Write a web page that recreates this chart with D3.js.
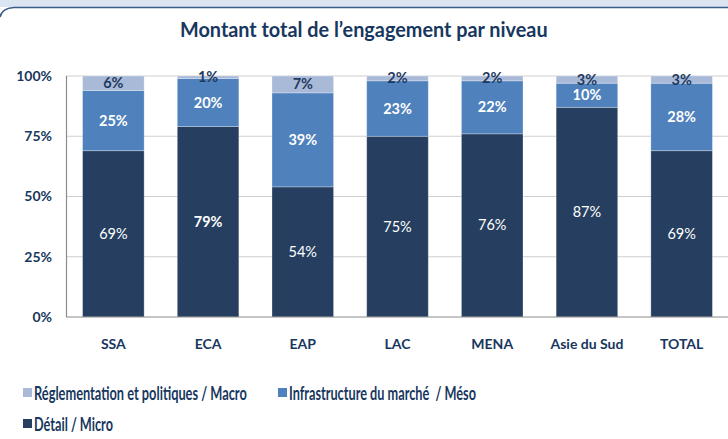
<!DOCTYPE html>
<html><head><meta charset="utf-8">
<script src="https://cdn.jsdelivr.net/npm/d3@7"></script>
<style>body{margin:0;background:#fff}svg{display:block}text{font-family:Lato,"Open Sans",sans-serif}</style>
</head><body><svg id="c" width="728" height="439"></svg>
<script>
const categories = ["SSA","ECA","EAP","LAC","MENA","Asie du Sud","TOTAL"];
const micro = [69,79,54,75,76,87,69];
const meso  = [25,20,39,23,22,10,28];
const macro = [6,1,7,2,2,3,3];
const yTicks = [0,25,50,75,100];
const seriesNames = ["Détail / Micro","Infrastructure du marché  / Méso","Réglementation et politiques / Macro"];
const colors = ["#263f60","#4f81bd","#a9b9d8"];
const labelColors = ["#ffffff","#ffffff","#1f3a5f"];
const labelWeights = [[400,700,400,400,400,400,400],[700,700,700,700,700,700,700],[700,700,700,700,700,700,700]];

const svg = d3.select("#c");
const navy = "#17375e";
svg.append("rect").attr("x",0).attr("y",0).attr("width",728).attr("height",7).attr("fill","#dbe5f1");
svg.append("path").attr("d","M0,17 Q2,8 14,7.5 L728,7.5").attr("fill","none").attr("stroke","#3b5c86").attr("stroke-width",1.6);

// horizontally condensed text helper (mimics the narrow original face)
function condensed(sel, txt, x0, y0, w, size, anchor){
  const t = sel.append("text").attr("font-size",size).attr("font-weight",700).attr("fill",navy)
    .style("white-space","pre").text(txt);
  const len = t.node().getComputedTextLength();
  const s = w/len;
  const ox = anchor==="middle" ? x0 - w/2 : x0;
  t.attr("transform",`translate(${ox},${y0}) scale(${s},1)`);
  return t;
}

condensed(svg, "Montant total de l’engagement par niveau", 364, 37, 368, 20, "middle");

const x = d3.scaleBand().domain(categories).range([66,729]).paddingInner(0.35).paddingOuter(0.175);
const y = d3.scaleLinear().domain([0,100]).range([317,76]);

svg.append("g").selectAll("line").data(yTicks.filter(d=>d>0)).join("line")
  .attr("x1",66).attr("x2",728).attr("y1",d=>y(d)).attr("y2",d=>y(d))
  .attr("stroke","#cfcfcf").attr("stroke-width",1.2);

const data = categories.map((c,i)=>({cat:c, v:[micro[i],meso[i],macro[i]]}));
const stack = d3.stack().keys([0,1,2]).value((d,k)=>d.v[k]);
const series = stack(data);

const g = svg.append("g");
series.forEach((s,k)=>{
  g.selectAll(null).data(s).join("rect")
    .attr("x",d=>x(d.data.cat)).attr("width",x.bandwidth())
    .attr("y",d=>y(d[1])).attr("height",d=>y(d[0])-y(d[1]))
    .attr("fill",colors[k]).attr("stroke","#ffffff").attr("stroke-opacity",0.35).attr("stroke-width",0.8);
});
series.forEach((s,k)=>{
  g.selectAll(null).data(s).join("text")
    .attr("x",d=>x(d.data.cat)+x.bandwidth()/2)
    .attr("y",d=>(y(d[0])+y(d[1]))/2+5)
    .attr("text-anchor","middle").attr("font-size",14.5)
    .attr("font-weight",(d,i)=>labelWeights[k][i])
    .attr("fill",labelColors[k])
    .text(d=>(d[1]-d[0])+"%");
});

svg.append("line").attr("x1",66.5).attr("x2",66.5).attr("y1",76).attr("y2",317).attr("stroke","#8c8c8c").attr("stroke-width",1.2);
svg.append("line").attr("x1",66).attr("x2",728).attr("y1",317).attr("y2",317).attr("stroke","#8c8c8c").attr("stroke-width",1.2);

const yAxis = svg.append("g").attr("transform","translate(66,0)")
  .call(d3.axisLeft(y).tickValues(yTicks).tickFormat(d=>d+"%").tickSize(0).tickPadding(14));
yAxis.select(".domain").remove();
yAxis.selectAll("text").attr("font-size",14).attr("font-weight",700).attr("fill",navy).attr("font-family","Lato,sans-serif");

const xAxis = svg.append("g").attr("transform","translate(0,317)")
  .call(d3.axisBottom(x).tickSize(0).tickPadding(22));
xAxis.select(".domain").remove();
xAxis.selectAll("text").attr("font-size",14).attr("font-weight",700).attr("fill",navy).attr("font-family","Lato,sans-serif");

const legendItems = [
  {name:seriesNames[2], color:colors[2], x:23, y:393, w:213},
  {name:seriesNames[1], color:colors[1], x:278, y:393, w:187},
  {name:seriesNames[0], color:colors[0], x:23, y:424, w:79}
];
const lg = svg.append("g");
legendItems.forEach(it=>{
  lg.append("rect").attr("x",it.x).attr("y",it.y-5).attr("width",9).attr("height",9).attr("fill",it.color);
  condensed(lg, it.name, it.x+11, it.y+6.5, it.w, 18, "start");
});
</script></body></html>
